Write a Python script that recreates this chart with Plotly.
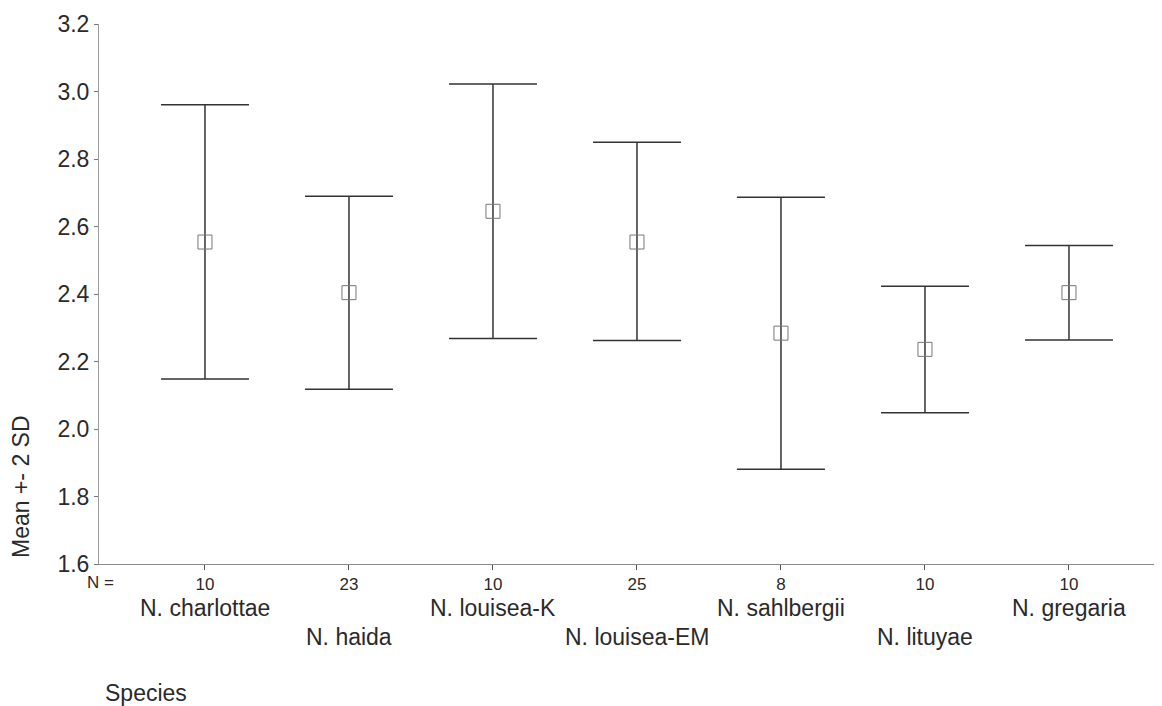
import plotly.graph_objects as go

species = ["N. charlottae", "N. haida", "N. louisea-K", "N. louisea-EM",
           "N. sahlbergii", "N. lituyae", "N. gregaria"]
n_counts = ["10", "23", "10", "25", "8", "10", "10"]
means = [2.554, 2.404, 2.645, 2.554, 2.284, 2.236, 2.404]
upper = [2.961, 2.690, 3.022, 2.850, 2.687, 2.423, 2.544]
lower = [2.148, 2.118, 2.268, 2.262, 1.881, 2.048, 2.264]
y_ticks = [1.6, 1.8, 2.0, 2.2, 2.4, 2.6, 2.8, 3.0, 3.2]

xs = list(range(len(species)))
err_plus = [u - m for u, m in zip(upper, means)]
err_minus = [m - l for m, l in zip(means, lower)]

FONT = "Liberation Sans, Arial, sans-serif"
TXT = "#2a2a2a"

fig = go.Figure()
fig.add_trace(go.Scatter(
    x=xs, y=means, mode="markers",
    marker=dict(symbol="square-open", size=14, color="#777777", line=dict(width=1)),
    error_y=dict(type="data", symmetric=False, array=err_plus, arrayminus=err_minus,
                 color="#333333", thickness=1.5, width=44),
    showlegend=False, hoverinfo="skip",
))

annotations = []
for i, name in enumerate(species):
    annotations.append(dict(
        x=i, y=0, xref="x", yref="paper", text=name, showarrow=False,
        xanchor="center", yanchor="middle", yshift=-44 if i % 2 == 0 else -73,
        font=dict(family=FONT, size=23, color=TXT)))
annotations.append(dict(
    x=0, y=0, xref="paper", yref="paper", text="N =", showarrow=False,
    xanchor="center", yanchor="middle", yshift=-18, xshift=1,
    font=dict(family=FONT, size=17, color=TXT)))
annotations.append(dict(
    x=0, y=0, xref="paper", yref="paper", text="Species", showarrow=False,
    xanchor="center", yanchor="middle", yshift=-129, xshift=47,
    font=dict(family=FONT, size=23, color=TXT)))
annotations.append(dict(
    x=0, y=0.1426, xref="paper", yref="paper", text="Mean +- 2 SD", showarrow=False,
    xanchor="center", yanchor="middle", xshift=-78, textangle=-90,
    font=dict(family=FONT, size=23, color=TXT)))

# page body has an 8px margin, so the figure is sized/offset to fit the window
fig.update_layout(
    width=1154, height=698,
    margin=dict(l=91, r=0, t=16, b=142),
    paper_bgcolor="white", plot_bgcolor="white",
    font=dict(family=FONT, color=TXT),
    xaxis=dict(range=[-0.736, 6.646], tickmode="array", tickvals=xs, ticktext=n_counts,
               showgrid=False, zeroline=False, showline=True, linecolor="#8a8a8a",
               linewidth=1, ticks="outside", ticklen=5, tickcolor="#555555",
               tickfont=dict(family=FONT, size=17, color=TXT)),
    yaxis=dict(range=[1.6, 3.2], tickmode="array", tickvals=y_ticks,
               ticktext=[f"{v:.1f}" for v in y_ticks],
               showgrid=False, zeroline=False, showline=True, linecolor="#9a9a9a",
               linewidth=1, ticks="outside", ticklen=4, tickcolor="#777777",
               tickfont=dict(family=FONT, size=23, color=TXT)),
    annotations=annotations,
)

fig.write_html("out.html")
